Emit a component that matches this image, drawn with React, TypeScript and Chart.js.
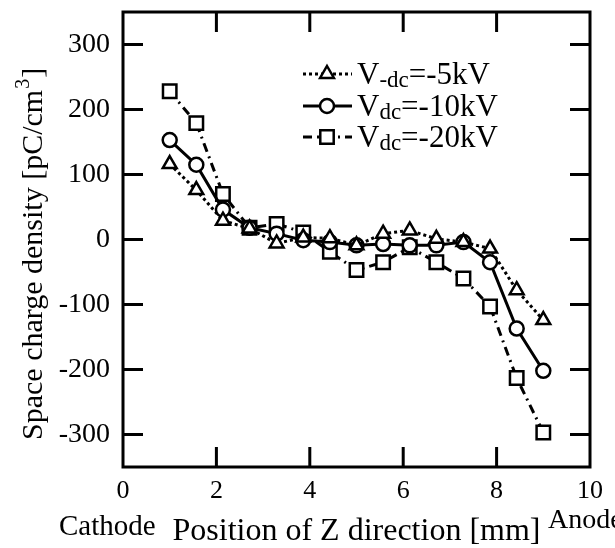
import { useEffect, useRef } from "react";
import { Chart, registerables } from "chart.js";

Chart.register(...registerables);

const positions = [1.0, 1.57, 2.14, 2.71, 3.29, 3.86, 4.43, 5.0, 5.57, 6.14, 6.71, 7.29, 7.86, 8.43, 9.0];
const v5kV = [116, 76, 29, 17, -6, 3, 2, -9, 9, 14, 1, -4, -14, -78, -124];
const v10kV = [153, 115, 46, 18, 9, -1, -4, -9, -7, -9, -9, -4, -35, -137, -202];
const v20kV = [228, 179, 70, 18, 24, 11, -19, -47, -35, -12, -35, -60, -103, -213, -297];

const xTicks = [0, 2, 4, 6, 8, 10];
const yTicks = [-300, -200, -100, 0, 100, 200, 300];
const legendMain = ["V", "V", "V"];
const legendSub = ["-dc", "dc", "dc"];
const legendRest = ["=-5kV", "=-10kV", "=-20kV"];
const yTitleMain = "Space charge density [pC/cm";
const yTitleSup = "3";
const yTitleEnd = "]";

const SERIF = "'Liberation Serif', 'Times New Roman', serif";

const frameTicksPlugin = {
  id: "frameTicks",
  afterDraw(chart: any) {
    const { ctx, chartArea: a, scales } = chart;
    const xs = scales.x;
    const ys = scales.y;
    ctx.save();
    ctx.strokeStyle = "#000";
    ctx.lineWidth = 3;
    ctx.strokeRect(a.left, a.top, a.right - a.left, a.bottom - a.top);
    const tl = 20;
    ctx.lineWidth = 3;
    ctx.beginPath();
    xTicks.forEach((v) => {
      if (v === 0 || v === 10) return;
      const px = xs.getPixelForValue(v);
      ctx.moveTo(px, a.bottom);
      ctx.lineTo(px, a.bottom - tl);
      ctx.moveTo(px, a.top);
      ctx.lineTo(px, a.top + tl);
    });
    yTicks.forEach((v) => {
      const py = ys.getPixelForValue(v);
      ctx.moveTo(a.left, py);
      ctx.lineTo(a.left + tl, py);
      ctx.moveTo(a.right, py);
      ctx.lineTo(a.right - tl, py);
    });
    ctx.stroke();

    // Cathode / Anode labels
    ctx.fillStyle = "#000";
    ctx.textBaseline = "alphabetic";
    ctx.textAlign = "left";
    ctx.font = `29px ${SERIF}`;
    ctx.fillText("Cathode", 59, 535);
    ctx.font = `28px ${SERIF}`;
    ctx.fillText("Anode", 548, 528);

    // Y axis title (rotated, with superscript)
    ctx.save();
    ctx.translate(42, 440);
    ctx.rotate(-Math.PI / 2);
    ctx.font = `30px ${SERIF}`;
    let tx = 0;
    ctx.fillText(yTitleMain, tx, 0);
    tx += ctx.measureText(yTitleMain).width;
    ctx.font = `20px ${SERIF}`;
    ctx.fillText(yTitleSup, tx + 1, -13);
    tx += ctx.measureText(yTitleSup).width + 2;
    ctx.font = `30px ${SERIF}`;
    ctx.fillText(yTitleEnd, tx, 0);
    ctx.restore();

    // Legend
    const ds = chart.data.datasets;
    const rowY = [74, 106, 137];
    const lx0 = 303;
    const lx1 = 352;
    const mx = 327;
    ds.forEach((d: any, i: number) => {
      const y = rowY[i];
      ctx.save();
      ctx.strokeStyle = "#000";
      ctx.lineWidth = d.borderWidth;
      ctx.setLineDash(d.borderDash || []);
      ctx.beginPath();
      ctx.moveTo(lx0, y);
      ctx.lineTo(lx1, y);
      ctx.stroke();
      ctx.setLineDash([]);
      ctx.fillStyle = "#fff";
      ctx.lineWidth = d.pointBorderWidth;
      ctx.beginPath();
      const r = d.pointRadius;
      if (d.pointStyle === "triangle") {
        ctx.moveTo(mx, y - r);
        ctx.lineTo(mx + r * 0.866, y + r * 0.5);
        ctx.lineTo(mx - r * 0.866, y + r * 0.5);
        ctx.closePath();
      } else if (d.pointStyle === "circle") {
        ctx.arc(mx, y, r, 0, Math.PI * 2);
      } else {
        const s = r * Math.SQRT1_2;
        ctx.rect(mx - s, y - s, 2 * s, 2 * s);
      }
      ctx.fill();
      ctx.stroke();
      ctx.restore();

      ctx.fillStyle = "#000";
      ctx.textBaseline = "alphabetic";
      const base = y + 10;
      let lx = 357;
      ctx.font = `31px ${SERIF}`;
      ctx.fillText(legendMain[i], lx, base);
      lx += ctx.measureText(legendMain[i]).width;
      ctx.font = `23px ${SERIF}`;
      ctx.fillText(legendSub[i], lx, base + 3);
      lx += ctx.measureText(legendSub[i]).width;
      ctx.font = `31px ${SERIF}`;
      ctx.fillText(legendRest[i], lx, base);
    });
    ctx.restore();
  },
};

export default function App() {
  const ref = useRef<HTMLCanvasElement | null>(null);
  useEffect(() => {
    if (!ref.current) return;
    const mk = (x: number[], y: number[]) => x.map((xv, i) => ({ x: xv, y: y[i] }));
    const chart = new Chart(ref.current, {
      type: "line",
      data: {
        datasets: [
          {
            label: "V-dc=-5kV",
            data: mk(positions, v5kV),
            borderColor: "#000",
            borderWidth: 3,
            borderDash: [3, 3],
            pointStyle: "triangle",
            pointRadius: 8,
            pointBorderWidth: 2.5,
            pointBackgroundColor: "#fff",
            pointBorderColor: "#000",
            tension: 0,
          },
          {
            label: "Vdc=-10kV",
            data: mk(positions, v10kV),
            borderColor: "#000",
            borderWidth: 3,
            borderDash: [],
            pointStyle: "circle",
            pointRadius: 7,
            pointBorderWidth: 2.5,
            pointBackgroundColor: "#fff",
            pointBorderColor: "#000",
            tension: 0,
          },
          {
            label: "Vdc=-20kV",
            data: mk(positions, v20kV),
            borderColor: "#000",
            borderWidth: 3,
            borderDash: [9, 5, 2, 5],
            pointStyle: "rect",
            pointRadius: 9.5,
            pointBorderWidth: 2.5,
            pointBackgroundColor: "#fff",
            pointBorderColor: "#000",
            tension: 0,
          },
        ],
      },
      options: {
        responsive: false,
        animation: false,
        layout: { padding: { top: 4, right: 25, left: 0, bottom: 0 } },
        plugins: { legend: { display: false }, tooltip: { enabled: false } },
        scales: {
          x: {
            type: "linear",
            min: 0,
            max: 10,
            afterBuildTicks: (s: any) => {
              s.ticks = xTicks.map((v) => ({ value: v }));
            },
            afterFit: (s: any) => {
              s.height = 81;
              s.paddingLeft = 0;
              s.paddingRight = 0;
            },
            grid: { display: false, drawTicks: false, tickLength: 0 },
            border: { display: false },
            ticks: {
              color: "#000",
              padding: 9,
              maxRotation: 0,
              font: { family: SERIF, size: 26 },
            },
            title: {
              display: true,
              text: "Position of Z direction [mm]",
              color: "#000",
              font: { family: SERIF, size: 32 },
              padding: { top: 0, bottom: -3 },
            },
          },
          y: {
            type: "linear",
            min: -350,
            max: 350,
            afterBuildTicks: (s: any) => {
              s.ticks = yTicks.map((v) => ({ value: v }));
            },
            afterFit: (s: any) => {
              s.width = 123;
              s.paddingTop = 0;
              s.paddingBottom = 0;
            },
            grid: { display: false, drawTicks: false, tickLength: 0 },
            border: { display: false },
            ticks: {
              color: "#000",
              padding: 13,
              font: { family: SERIF, size: 28 },
            },
          },
        },
      },
      plugins: [frameTicksPlugin],
    } as any);
    return () => chart.destroy();
  }, []);
  return (
    <div style={{ position: "fixed", left: 0, top: 0, width: 615, height: 548, background: "#fff" }}>
      <canvas ref={ref} width={615} height={548} style={{ display: "block" }} />
    </div>
  );
}
